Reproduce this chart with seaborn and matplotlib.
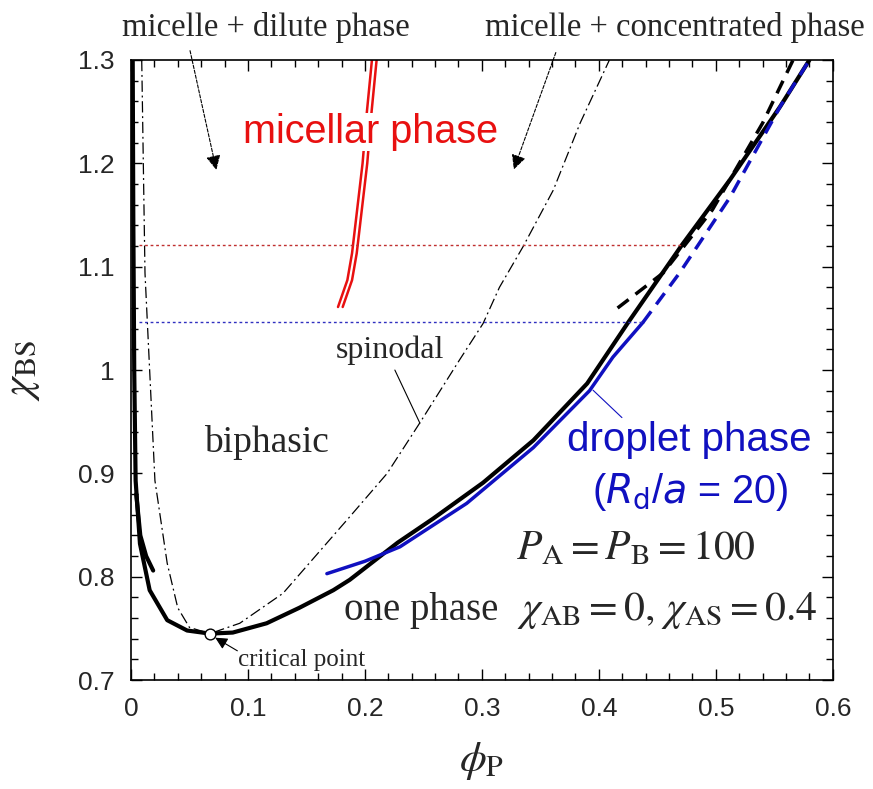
import matplotlib
matplotlib.use("Agg")
import matplotlib.pyplot as plt
import seaborn as sns
from matplotlib.ticker import MultipleLocator, FuncFormatter

# ---------------- data ----------------
binodal_phi = [0.0015, 0.0020, 0.0028, 0.0040, 0.0077, 0.016, 0.031, 0.048, 0.0675, 0.087,
               0.116, 0.144, 0.173, 0.187, 0.228, 0.258, 0.301, 0.344, 0.390, 0.425,
               0.471, 0.512, 0.555, 0.580]
binodal_chi = [1.300, 1.150, 1.000, 0.893, 0.832, 0.787, 0.758, 0.748, 0.745, 0.746,
               0.755, 0.770, 0.787, 0.797, 0.833, 0.856, 0.891, 0.932, 0.987, 1.046,
               1.121, 1.184, 1.255, 1.300]

branch_phi = [0.0045, 0.008, 0.013, 0.019]
branch_chi = [0.880, 0.840, 0.820, 0.806]

spinodal_phi = [0.0092, 0.0094, 0.012, 0.0205, 0.031, 0.040, 0.050, 0.0675, 0.093, 0.130,
                0.187, 0.219, 0.247, 0.281, 0.301, 0.315, 0.335, 0.361, 0.384, 0.409]
spinodal_chi = [1.300, 1.287, 1.094, 0.893, 0.813, 0.770, 0.751, 0.745, 0.755, 0.784,
                0.858, 0.900, 0.949, 1.010, 1.045, 1.080, 1.119, 1.174, 1.239, 1.300]

droplet_phi = [0.1675, 0.200, 0.230, 0.287, 0.344, 0.392, 0.412, 0.4376]
droplet_chi = [0.803, 0.815, 0.829, 0.871, 0.925, 0.980, 1.0125, 1.046]

droplet_ms_phi = [0.4376, 0.469, 0.512, 0.555, 0.580]
droplet_ms_chi = [1.046, 1.094, 1.167, 1.255, 1.300]

binodal_ms_phi = [0.416, 0.455, 0.497, 0.540, 0.566]
binodal_ms_chi = [1.060, 1.094, 1.155, 1.239, 1.300]

micelle_lo_phi = [0.177, 0.185, 0.189, 0.198, 0.2017, 0.206]
micelle_lo_chi = [1.061, 1.087, 1.113, 1.200, 1.250, 1.300]
micelle_hi_phi = [0.181, 0.189, 0.193, 0.202, 0.2057, 0.210]
micelle_hi_chi = [1.061, 1.087, 1.113, 1.200, 1.250, 1.300]

micelle_tie_chi = 1.121
micelle_tie_phi = [0.007, 0.471]
droplet_tie_chi = 1.046
droplet_tie_phi = [0.007, 0.4376]

critical_phi = [0.0675]
critical_chi = [0.745]

x_ticks = [0, 0.1, 0.2, 0.3, 0.4, 0.5, 0.6]
y_ticks = [0.7, 0.8, 0.9, 1.0, 1.1, 1.2, 1.3]

# ---------------- style ----------------
sns.set_theme(style="ticks")
plt.rcParams["font.family"] = ["Liberation Sans", "DejaVu Sans"]
plt.rcParams["mathtext.fontset"] = "stix"
SERIF = ["Liberation Serif", "DejaVu Serif"]

fig = plt.figure(figsize=(8.73, 7.89), dpi=100)
ax = fig.add_axes([0.150, 0.138, 0.804, 0.786])


def line(x, y, **kw):
    sns.lineplot(x=x, y=y, sort=False, estimator=None, ax=ax, **kw)


line(binodal_phi, binodal_chi, color="black", lw=3.0)
line(branch_phi, branch_chi, color="black", lw=3.0)
line(spinodal_phi, spinodal_chi, color="black", lw=0.9, linestyle=(0, (9, 3, 1.5, 3)))
line(droplet_phi, droplet_chi, color="#1010c0", lw=2.5)
line(droplet_ms_phi, droplet_ms_chi, color="#1010c0", lw=2.5, linestyle=(0, (4, 2.5)))
line(binodal_ms_phi, binodal_ms_chi, color="black", lw=2.5, linestyle=(0, (4, 2.5)))
line(micelle_lo_phi, micelle_lo_chi, color="#e81010", lw=1.8)
line(micelle_hi_phi, micelle_hi_chi, color="#e81010", lw=1.8)
line(micelle_tie_phi, [micelle_tie_chi] * 2, color="#c03030", lw=1.0, linestyle=(0, (2, 2)))
line(droplet_tie_phi, [droplet_tie_chi] * 2, color="#3030c0", lw=1.0, linestyle=(0, (2, 2)))
sns.scatterplot(x=critical_phi, y=critical_chi, ax=ax, s=60, color="white",
                edgecolor="black", linewidth=1.0, zorder=5)

ax.set_xlim(0, 0.6)
ax.set_ylim(0.7, 1.3)
ax.set_xticks(x_ticks)
ax.set_yticks(y_ticks)
fmt = FuncFormatter(lambda v, p: f"{v:g}")
ax.xaxis.set_major_formatter(fmt)
ax.yaxis.set_major_formatter(fmt)
ax.xaxis.set_minor_locator(MultipleLocator(0.02))
ax.yaxis.set_minor_locator(MultipleLocator(0.02))
ax.tick_params(which="both", direction="in", top=True, right=True, color="black", width=1.0)
ax.tick_params(which="major", length=8, labelsize=19, pad=12)
ax.tick_params(which="minor", length=5)
for s in ax.spines.values():
    s.set_color("black")
    s.set_linewidth(1.2)

ax.set_xlabel(r"$\phi_{\rm P}$", fontsize=31, labelpad=14)
ax.set_ylabel(r"$\chi_{\rm BS}$", fontsize=31, labelpad=26)

# ---------------- annotations ----------------
ax.text(0.115, 1.331, "micelle + dilute phase", family=SERIF, fontsize=23.5, ha="center", va="center", clip_on=False)
ax.text(0.465, 1.331, "micelle + concentrated phase", family=SERIF, fontsize=23.5, ha="center", va="center", clip_on=False)
arrow = dict(arrowstyle="-|>", color="black", lw=0.8, linestyle=(0, (3, 1.5)), mutation_scale=22)
ax.annotate("", xy=(0.0735, 1.191), xytext=(0.050, 1.3116), arrowprops=arrow, annotation_clip=False)
ax.annotate("", xy=(0.3265, 1.1916), xytext=(0.364, 1.3097), arrowprops=arrow, annotation_clip=False)

ax.text(0.0957, 1.230, "micellar phase", color="#e81010", fontsize=28.5, ha="left", va="center",
        bbox=dict(facecolor="white", edgecolor="none", pad=0))
ax.text(0.221, 1.019, "spinodal", family=SERIF, fontsize=23, ha="center", va="center")
line([0.2256, 0.247], [1.000, 0.9486], color="black", lw=0.8)
ax.text(0.116, 0.930, "biphasic", family=SERIF, fontsize=27, ha="center", va="center")
ax.text(0.477, 0.932, "droplet phase", color="#1010c0", fontsize=29, ha="center", va="center")
ax.text(0.478, 0.882, r"($R_{\rm d}$/$a$ = 20)", color="#1010c0", fontsize=28.5, ha="center", va="center",
        math_fontfamily="dejavusans")
line([0.4197, 0.395], [0.954, 0.9805], color="#1010c0", lw=0.8)
ax.text(0.4316, 0.8276, r"$P_{\rm A} = P_{\rm B} = 100$", fontsize=30, ha="center", va="center")
ax.text(0.248, 0.7676, "one phase", family=SERIF, fontsize=28, ha="center", va="center")
ax.text(0.458, 0.7676, r"$\chi_{\rm AB} = 0,\, \chi_{\rm AS} = 0.4$", fontsize=30, ha="center", va="center")
ax.text(0.0915, 0.719, "critical point", family=SERIF, fontsize=18, ha="left", va="center")
ax.annotate("", xy=(0.070, 0.7424), xytext=(0.093, 0.727),
            arrowprops=dict(arrowstyle="-|>", color="black", lw=0.8, mutation_scale=18))

fig.savefig("out.png", dpi=100)
